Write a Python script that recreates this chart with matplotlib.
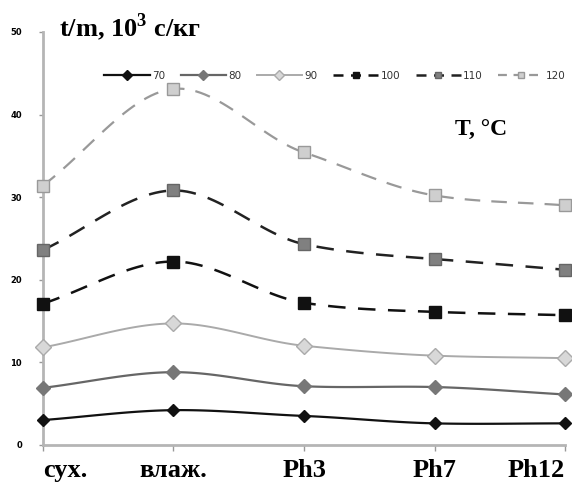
import matplotlib
matplotlib.use("Agg")
import matplotlib.pyplot as plt
import numpy as np

plt.rcParams["mathtext.fontset"] = "custom"
plt.rcParams["mathtext.rm"] = "Liberation Serif:bold"
plt.rcParams["mathtext.bf"] = "Liberation Serif:bold"

categories = ["сух.", "влаж.", "Ph3", "Ph7", "Ph12"]
temps = ["70", "80", "90", "100", "110", "120"]
t70 = [3.0, 4.2, 3.5, 2.6, 2.6]
t80 = [6.9, 8.8, 7.1, 7.0, 6.1]
t90 = [11.8, 14.7, 12.0, 10.8, 10.5]
t100 = [17.1, 22.2, 17.2, 16.1, 15.7]
t110 = [23.6, 30.8, 24.3, 22.5, 21.2]
t120 = [31.4, 43.1, 35.4, 30.2, 29.0]


def smooth(x, y, n=30, k=0.8):
    # cubic hermite through the points (excel-like smoothed line)
    x = np.asarray(x, float)
    y = np.asarray(y, float)
    m = np.gradient(y, x) * k
    m[0] = (y[1] - y[0]) / (x[1] - x[0])
    m[-1] = (y[-1] - y[-2]) / (x[-1] - x[-2])
    xs, ys = [], []
    t = np.linspace(0, 1, n)
    for i in range(len(x) - 1):
        h = x[i + 1] - x[i]
        h00 = 2 * t ** 3 - 3 * t ** 2 + 1
        h10 = t ** 3 - 2 * t ** 2 + t
        h01 = -2 * t ** 3 + 3 * t ** 2
        h11 = t ** 3 - t ** 2
        xs.extend(x[i] + h * t)
        ys.extend(h00 * y[i] + h10 * h * m[i] + h01 * y[i + 1] + h11 * h * m[i + 1])
    return np.array(xs), np.array(ys)


fig = plt.figure(figsize=(5.72, 4.91), dpi=100)
ax = fig.add_axes([0.075, 0.094, 0.913, 0.841])

x = np.arange(len(categories))
series = [t70, t80, t90, t100, t110, t120]
line_colors = ["#111111", "#666666", "#aaaaaa", "#111111", "#222222", "#999999"]
face_colors = ["#111111", "#777777", "#d8d8d8", "#111111", "#808080", "#cfcfcf"]
edge_colors = ["#111111", "#777777", "#aaaaaa", "#111111", "#666666", "#999999"]
markers = ["D", "D", "D", "s", "s", "s"]
sizes = [6, 7, 8, 9, 9, 9]
styles = ["-", "-", "-", (0, (7, 5)), (0, (7, 5)), (0, (7, 5))]
widths = [1.6, 1.6, 1.4, 1.8, 1.8, 1.6]

for ys, lab, lc, fc, ec, m, ms, ls, lw in zip(series, temps, line_colors, face_colors, edge_colors,
                                               markers, sizes, styles, widths):
    sx, sy = smooth(x, ys)
    ax.plot(sx, sy, color=lc, linestyle=ls, linewidth=lw, clip_on=False, zorder=2)
    ax.plot(x, ys, linestyle="none", marker=m, markersize=ms, markerfacecolor=fc,
            markeredgecolor=ec, clip_on=False, zorder=3)
    ax.plot([], [], color=lc, linestyle=ls if ls == "-" else (0, (4, 3)), linewidth=lw,
            marker=m, markersize=5, markerfacecolor=fc, markeredgecolor=ec, label=lab)

ax.set_xlim(0, 4)
ax.set_ylim(0, 50)
ax.set_xticks(x)
ax.set_xticklabels(categories, fontfamily="Liberation Serif", fontweight="bold", fontsize=19)
xl = ax.get_xticklabels()
xl[0].set_horizontalalignment("left")
xl[-1].set_horizontalalignment("right")
ax.set_yticks([0, 10, 20, 30, 40, 50])
ax.tick_params(axis="y", labelsize=6, length=3, color="#999999", width=1, pad=12)
ax.tick_params(axis="x", length=4, color="#999999", width=1, pad=6)
for lbl in ax.get_yticklabels():
    lbl.set_fontweight("bold")
for s in ["top", "right"]:
    ax.spines[s].set_visible(False)
for s in ["left", "bottom"]:
    ax.spines[s].set_color("#b5b5b5")
    ax.spines[s].set_linewidth(2)

leg = ax.legend(ncol=6, loc="upper left", bbox_to_anchor=(0.1, 0.928), frameon=False,
                fontsize=7.5, handlelength=4.35, handletextpad=0.2, columnspacing=1.5)
for t in leg.get_texts():
    t.set_color("#333333")

fig.text(0.103, 0.945, "t/m, 10$^{3}$ с/кг", fontfamily="Liberation Serif", fontweight="bold",
         fontsize=19, va="center")
fig.text(0.795, 0.735, "T, °C", fontfamily="Liberation Serif", fontweight="bold",
         fontsize=17, va="center")

fig.savefig("out.png", dpi=100)
